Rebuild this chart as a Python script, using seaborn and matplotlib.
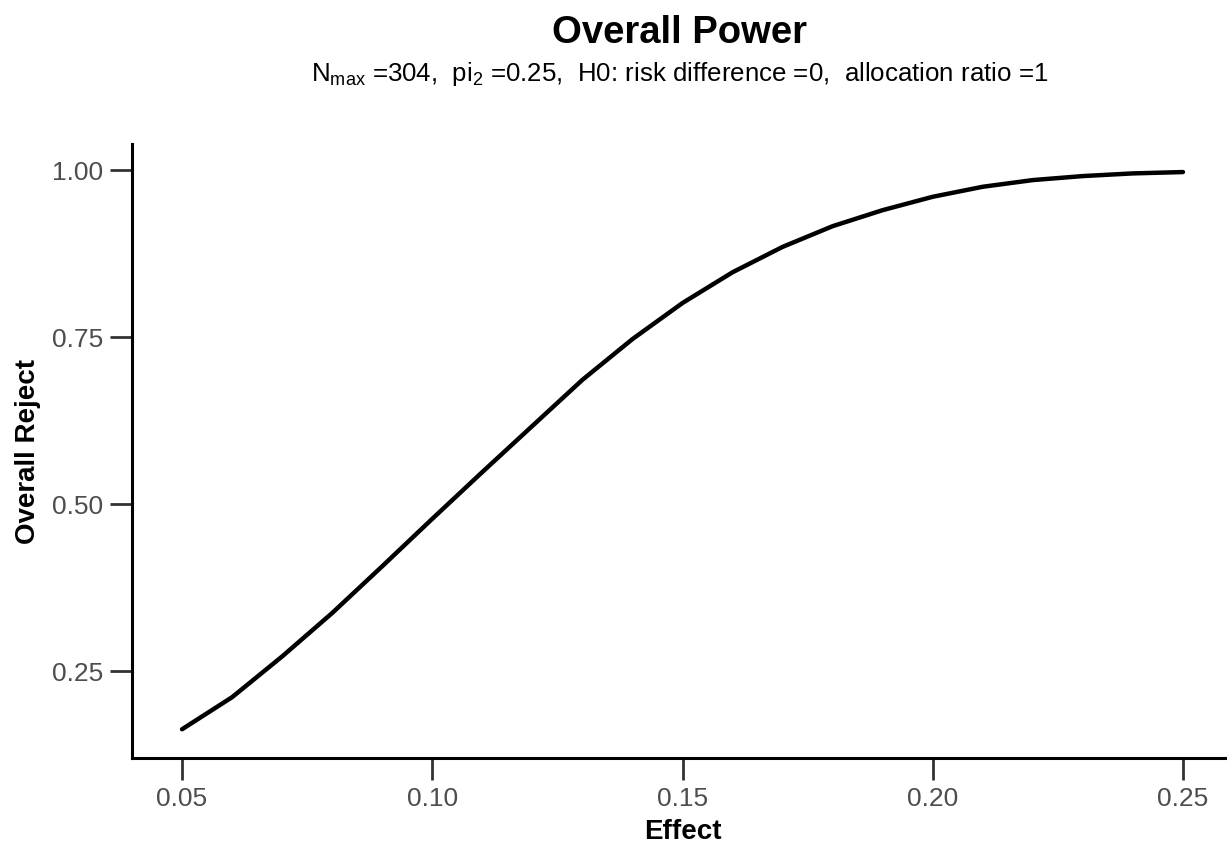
import numpy as np
import pandas as pd
import matplotlib
matplotlib.use("Agg")
import matplotlib.pyplot as plt
import seaborn as sns

# values
effect = [0.05, 0.06, 0.07, 0.08, 0.09, 0.10, 0.11, 0.12, 0.13, 0.14, 0.15,
          0.16, 0.17, 0.18, 0.19, 0.20, 0.21, 0.22, 0.23, 0.24, 0.25]
overall_reject = [0.163, 0.211, 0.272, 0.337, 0.407, 0.478, 0.548, 0.617, 0.686, 0.747, 0.801,
                  0.847, 0.885, 0.916, 0.940, 0.960, 0.975, 0.985, 0.991, 0.995, 0.997]
x_ticks = [0.05, 0.10, 0.15, 0.20, 0.25]
y_ticks = [0.25, 0.50, 0.75, 1.00]

title = "Overall Power"
subtitle = r"N$_\mathrm{max}$ =304,  pi$_\mathrm{2}$ =0.25,  H0: risk difference =0,  allocation ratio =1"

sns.set_style("white")
plt.rcParams['font.family'] = ['Liberation Sans', 'DejaVu Sans']
plt.rcParams['text.color'] = 'black'
plt.rcParams['mathtext.fontset'] = 'custom'
plt.rcParams['mathtext.rm'] = 'Liberation Sans'
plt.rcParams['mathtext.it'] = 'Liberation Sans:italic'
plt.rcParams['mathtext.bf'] = 'Liberation Sans:bold'

df = pd.DataFrame({'Effect': effect, 'Overall Reject': overall_reject})

fig = plt.figure(figsize=(12.27, 8.46), dpi=100)
W, H = 1227, 846
# axes box in pixels: left 132, bottom 758, top 144, running off the right edge
ax = fig.add_axes([132 / W, (H - 758) / H, 1 - 132 / W, (758 - 144) / H])

sns.lineplot(data=df, x='Effect', y='Overall Reject', ax=ax, color='black', linewidth=3.2)

ax.set_xlim(0.0400, 0.2588)
ax.set_ylim(0.120, 1.039)
ax.set_xticks(x_ticks)
ax.set_xticklabels([f"{t:.2f}" for t in x_ticks])
ax.set_yticks(y_ticks)
ax.set_yticklabels([f"{t:.2f}" for t in y_ticks])

for side in ['top', 'right']:
    ax.spines[side].set_visible(False)
for side in ['left', 'bottom']:
    ax.spines[side].set_color('black')
    ax.spines[side].set_linewidth(2.2)

ax.tick_params(axis='both', which='major', length=16, width=2, color='#333333',
               labelcolor='#4d4d4d', labelsize=19, pad=5, left=True, bottom=True)

ax.set_xlabel('Effect', fontsize=20, fontweight='bold', color='black')
ax.set_ylabel('Overall Reject', fontsize=20, fontweight='bold', color='black')
ax.xaxis.label.set_va('center')
ax.yaxis.label.set_va('center')
ax.xaxis.set_label_coords((683 - 132) / 1095, (758 - 832) / 614)
ax.yaxis.set_label_coords((28 - 132) / 1095, (758 - 451) / 614)

fig.text(679 / W, 1 - 33 / H, title, ha='center', va='center', fontsize=27.5,
         fontweight='bold', color='black')
fig.text(680 / W, 1 - 74 / H, subtitle, ha='center', va='center', fontsize=18.6, color='black')

fig.savefig('out.png', dpi=100)
